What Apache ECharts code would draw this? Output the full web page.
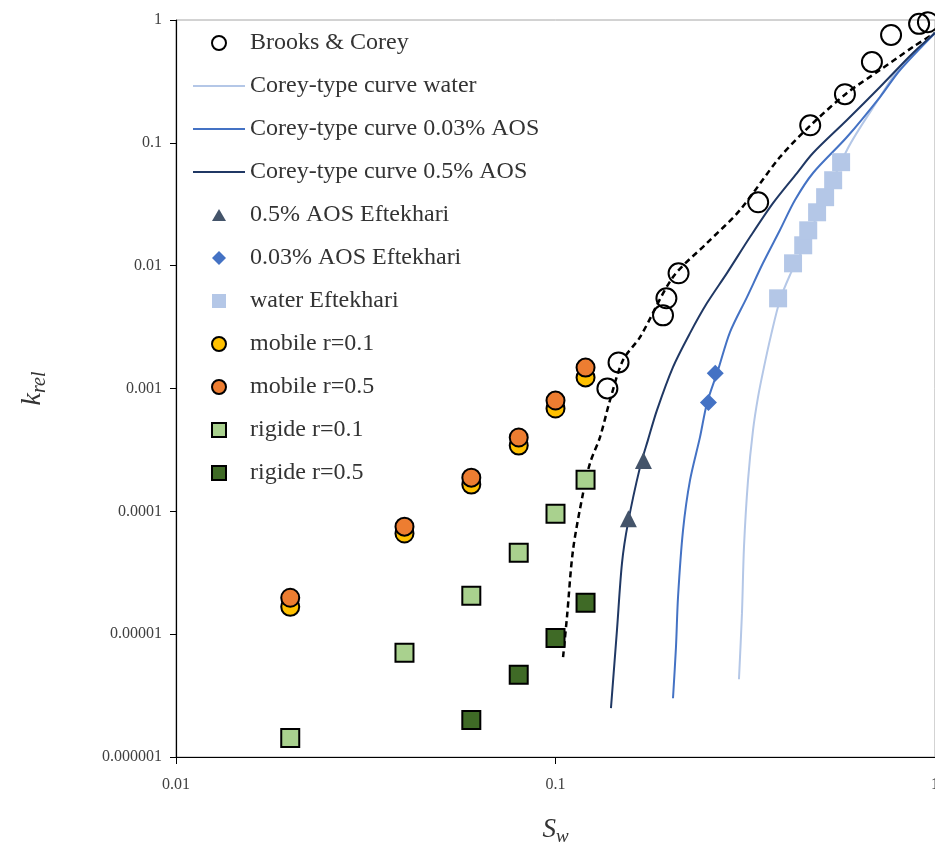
<!DOCTYPE html>
<html>
<head>
<meta charset="utf-8">
<script src="https://cdn.jsdelivr.net/npm/echarts@6/dist/echarts.min.js"></script>
<style>
  html, body { margin: 0; padding: 0; background: #fff; }
  #chart { width: 935px; height: 843px; }
</style>
</head>
<body>
<div id="chart"></div>
<script>
// values (Sw, krel)
const brooksCoreyPts = [
  [0.137, 0.001], [0.1466, 0.00163], [0.192, 0.00394], [0.196, 0.00542], [0.211, 0.00867],
  [0.342, 0.0328], [0.469, 0.139], [0.579, 0.249], [0.682, 0.455], [0.766, 0.755],
  [0.908, 0.93], [0.958, 0.96]
];
const brooksCoreyFit = [
  [0.1047, 0.0000065], [0.1072, 0.00001375], [0.1112, 0.0000483], [0.1182, 0.0001406],
  [0.1233, 0.000247], [0.131, 0.000402], [0.1392, 0.000804], [0.1506, 0.001703],
  [0.167, 0.00262], [0.204, 0.00808], [0.2507, 0.01528], [0.3063, 0.02836],
  [0.3904, 0.0766], [0.4771, 0.145], [0.5862, 0.2543], [0.7162, 0.3916],
  [0.8749, 0.6027], [1.0, 0.7837]
];
const coreyWater = [
  [0.3044, 0.0000043], [0.31, 0.00001483], [0.3138, 0.0000511], [0.3216, 0.0001795],
  [0.3315, 0.000458], [0.3417, 0.000851], [0.3543, 0.001494], [0.3698, 0.00272],
  [0.3904, 0.00525], [0.4148, 0.00839], [0.4408, 0.0122], [0.5862, 0.0874],
  [0.7162, 0.236], [0.8089, 0.4144], [1.0, 0.7837]
];
const corey003 = [
  [0.204, 0.00000301], [0.2077, 0.00000783], [0.2103, 0.00002], [0.2168, 0.0000703],
  [0.2262, 0.0001795], [0.2403, 0.000402], [0.2507, 0.00076], [0.2681, 0.001412],
  [0.2883, 0.00288], [0.3196, 0.00555], [0.3522, 0.0105], [0.3904, 0.0195],
  [0.4277, 0.0342], [0.4771, 0.0568], [0.5862, 0.1115], [0.7162, 0.236],
  [0.8089, 0.3916], [1.0, 0.7837]
];
const corey05 = [
  [0.14, 0.0000025], [0.1452, 0.00001078], [0.1497, 0.0000379], [0.1552, 0.0000801],
  [0.167, 0.000229], [0.1752, 0.00038], [0.1851, 0.000667], [0.204, 0.001494],
  [0.2262, 0.002825], [0.2507, 0.00496], [0.283, 0.0087], [0.3255, 0.0171],
  [0.3742, 0.0323], [0.4329, 0.0568], [0.4771, 0.0826], [0.5862, 0.1533],
  [0.7162, 0.2847], [0.8749, 0.5385], [1.0, 0.7837]
];
const eftekhari05 = [[0.1556, 0.000087], [0.1705, 0.000259]];
const eftekhari003 = [[0.2529, 0.000769], [0.2636, 0.00133]];
const eftekhariWater = [
  [0.386, 0.00542], [0.4226, 0.01045], [0.4495, 0.01465], [0.4634, 0.0194],
  [0.489, 0.0272], [0.5134, 0.0361], [0.5391, 0.0496], [0.5657, 0.0696]
];
const swModel = [0.02, 0.04, 0.06, 0.08, 0.1, 0.12];
const mobileR01 = [0.0000167, 0.000066, 0.000165, 0.000343, 0.000687, 0.00123];
const mobileR05 = [0.0000198, 0.000075, 0.000188, 0.000399, 0.000798, 0.00148];
const rigideSw05 = [0.06, 0.08, 0.1, 0.12];
const rigideR01 = [0.00000143, 0.00000705, 0.0000205, 0.000046, 0.0000957, 0.000181];
const rigideR05 = [0.000002, 0.00000467, 0.0000093, 0.000018];
const xTickLabels = ['0.01', '0.1', '1'];
const yTickLabels = ['1', '0.1', '0.01', '0.001', '0.0001', '0.00001', '0.000001'];

const pair = (xs, ys) => xs.map((x, i) => [x, ys[i]]);
const serif = 'Liberation Serif';

// legend icons: a 14px mark in the middle of the 52px slot (the moveTo's fix the box)
const box = 'path://M0,0 M52,14 ';
const icons = {
  triangle: box + 'M26,1 L33,13 L19,13 Z',
  diamond: box + 'M26,0 L33,7 L26,14 L19,7 Z',
  square: box + 'M19,0 L33,0 L33,14 L19,14 Z'
};

const chart = echarts.init(document.getElementById('chart'));

function curve(name, data, color, extra) {
  return Object.assign({
    name: name, type: 'line', data: data, symbol: 'none', smooth: 0.3,
    lineStyle: { color: color, width: 2 }, itemStyle: { color: color },
    z: 2
  }, extra || {});
}
function dots(name, data, symbol, size, color, border) {
  return {
    name: name, type: 'scatter', data: data, symbol: symbol, symbolSize: size, z: 3,
    itemStyle: border
      ? { color: color, borderColor: '#000', borderWidth: 2, opacity: 1 }
      : { color: color, opacity: 1 }
  };
}
const lineItem = name => ({ name: name, itemStyle: { opacity: 0 } });

chart.setOption({
  animation: false,
  grid: {
    left: 176, right: 0, top: 20, bottom: 86, outerBoundsMode: 'none',
    show: true, borderColor: '#a6a6a6', borderWidth: 1
  },
  legend: {
    orient: 'vertical', left: 187, top: 26,
    itemWidth: 52, itemHeight: 14, itemGap: 19,
    textStyle: { fontFamily: serif, fontSize: 24, color: '#333', lineHeight: 24 },
    data: [
      'Brooks & Corey',
      lineItem('Corey-type curve water'),
      lineItem('Corey-type curve 0.03% AOS'),
      lineItem('Corey-type curve 0.5% AOS'),
      { name: '0.5% AOS Eftekhari', icon: icons.triangle },
      { name: '0.03% AOS Eftekhari', icon: icons.diamond },
      { name: 'water Eftekhari', icon: icons.square },
      'mobile r=0.1', 'mobile r=0.5',
      { name: 'rigide r=0.1', icon: icons.square },
      { name: 'rigide r=0.5', icon: icons.square }
    ]
  },
  xAxis: {
    type: 'log', logBase: 10, min: 0.01, max: 1,
    name: '{i|S}{s|w}', nameLocation: 'middle', nameGap: 57,
    nameTextStyle: {
      rich: {
        i: { fontFamily: serif, fontStyle: 'italic', fontSize: 27, color: '#333' },
        s: { fontFamily: serif, fontStyle: 'italic', fontSize: 19, color: '#333', padding: [13, 0, 0, 0] }
      }
    },
    axisLine: { lineStyle: { color: '#000', width: 1.2 } },
    axisTick: { show: true, length: 7, lineStyle: { color: '#000' } },
    minorTick: { show: false },
    splitLine: { show: false },
    axisLabel: {
      fontFamily: serif, fontSize: 16, color: '#404040', margin: 20,
      formatter: v => xTickLabels[Math.round(Math.log10(v)) + 2]
    }
  },
  yAxis: {
    type: 'log', logBase: 10, min: 0.000001, max: 1,
    name: '{i|k}{s|rel}', nameLocation: 'middle', nameGap: 126, nameRotate: 90,
    nameTextStyle: {
      rich: {
        i: { fontFamily: serif, fontStyle: 'italic', fontSize: 28, color: '#333' },
        s: { fontFamily: serif, fontStyle: 'italic', fontSize: 20, color: '#333', padding: [14, 0, 0, 0] }
      }
    },
    axisLine: { show: true, lineStyle: { color: '#000', width: 1.2 } },
    axisTick: { show: true, length: 6, lineStyle: { color: '#000' } },
    splitLine: { show: false },
    axisLabel: {
      fontFamily: serif, fontSize: 16, color: '#404040', margin: 14,
      formatter: v => yTickLabels[Math.round(-Math.log10(v))]
    }
  },
  series: [
    curve('Brooks & Corey fit', brooksCoreyFit, '#000',
      { lineStyle: { color: '#000', width: 2.5, type: [6, 4] } }),
    curve('Corey-type curve water', coreyWater, '#b4c7e7'),
    curve('Corey-type curve 0.03% AOS', corey003, '#4472c4'),
    curve('Corey-type curve 0.5% AOS', corey05, '#203864'),
    dots('Brooks & Corey', brooksCoreyPts, 'circle', 20, 'rgba(255,255,255,0)', true),
    dots('0.5% AOS Eftekhari', eftekhari05, 'triangle', 17, '#44546a', false),
    dots('0.03% AOS Eftekhari', eftekhari003, 'diamond', 17, '#4472c4', false),
    dots('water Eftekhari', eftekhariWater, 'rect', 18, '#b4c7e7', false),
    dots('mobile r=0.1', pair(swModel, mobileR01), 'circle', 18, '#ffc000', true),
    dots('mobile r=0.5', pair(swModel, mobileR05), 'circle', 18, '#ed7d31', true),
    dots('rigide r=0.1', pair(swModel, rigideR01), 'rect', 18, '#a9d18e', true),
    dots('rigide r=0.5', pair(rigideSw05, rigideR05), 'rect', 18, '#3f6a26', true)
  ]
});
</script>
</body>
</html>
